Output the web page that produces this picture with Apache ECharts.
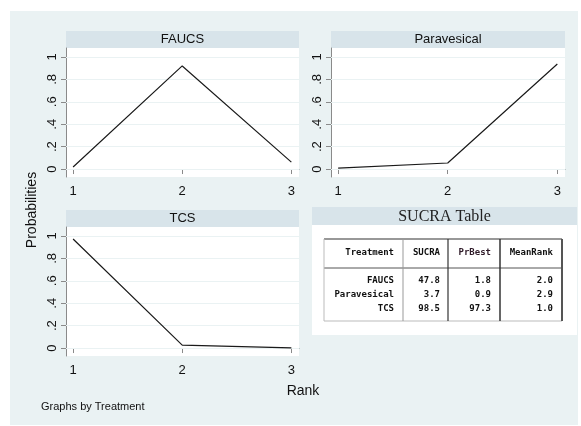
<!DOCTYPE html>
<html><head><meta charset="utf-8">
<script src="https://cdn.jsdelivr.net/npm/echarts@6/dist/echarts.min.js"></script>
<style>html,body{margin:0;padding:0;background:#fff}#c{width:581px;height:426px}</style>
</head><body><div id="c"></div>
<script>
// ---- data ----
const ranks = [1, 2, 3];
const panelTitles = ['FAUCS', 'Paravesical', 'TCS'];
const faucs = [0.018, 0.92, 0.062];
const paravesical = [0.009, 0.054, 0.937];
const tcs = [0.973, 0.026, 0.001];
const yTicks = [0, 0.2, 0.4, 0.6, 0.8, 1];
const yTickLabels = ['0', '.2', '.4', '.6', '.8', '1'];
const tableHeader = ['Treatment', 'SUCRA', 'PrBest', 'MeanRank'];
const treatments = ['FAUCS', 'Paravesical', 'TCS'];
const sucra = ['47.8', '3.7', '98.5'];
const prBest = ['1.8', '0.9', '97.3'];
const meanRank = ['2.0', '2.9', '1.0'];

// ---- layout ----
const BG = '#eaf2f3', STRIP = '#d8e4ea', FONT = '"Liberation Sans", Arial, sans-serif';
const grids = [
  {left: 66, top: 48, width: 233, height: 129},
  {left: 331, top: 48, width: 234, height: 129},
  {left: 66, top: 227, width: 233, height: 129}
];
const seriesData = [faucs, paravesical, tcs];

const chart = echarts.init(document.getElementById('c'), null, {renderer: 'canvas'});

const xAxes = grids.map((g, i) => ({
  type: 'value', gridIndex: i, min: 0.935, max: 3.07,
  axisLine: {show: true, lineStyle: {color: '#8a8a8a', width: 1}},
  axisTick: {show: true, length: 5, customValues: ranks, lineStyle: {color: '#8a8a8a'}},
  axisLabel: {customValues: ranks, color: '#111', fontSize: 13, fontFamily: FONT, margin: 8},
  splitLine: {show: false}
}));
const yAxes = grids.map((g, i) => ({
  type: 'value', gridIndex: i, min: -0.071, max: 1.08,
  axisLine: {show: true, lineStyle: {color: '#8a8a8a', width: 1}},
  axisTick: {show: true, length: 5, customValues: yTicks, lineStyle: {color: '#8a8a8a'}},
  axisLabel: {customValues: yTicks, rotate: 90, color: '#111', fontSize: 13, fontFamily: FONT, margin: 7,
    formatter: v => { const k = yTicks.findIndex(t => Math.abs(t - v) < 1e-6); return k >= 0 ? yTickLabels[k] : ''; }},
  splitLine: {show: false}
}));
const series = grids.map((g, i) => ({
  type: 'line', xAxisIndex: i, yAxisIndex: i, symbol: 'none',
  data: ranks.map((r, k) => [r, seriesData[i][k]]),
  lineStyle: {color: '#1a1a1a', width: 1.2},
  markLine: {silent: true, symbol: 'none', label: {show: false},
    lineStyle: {color: BG, width: 1.2, type: 'solid'},
    data: yTicks.map(v => ({yAxis: v})), z: 1},
  z: 5
}));

// graphics: background, strips, titles, table
const gfx = [];
gfx.push({type: 'rect', shape: {x: 10, y: 11, width: 568, height: 414}, style: {fill: BG}, z: -10});
grids.forEach((g, i) => {
  gfx.push({type: 'rect', shape: {x: g.left, y: g.top, width: g.width, height: g.height}, style: {fill: '#fff'}, z: -9});
  gfx.push({type: 'rect', shape: {x: g.left, y: g.top - 17, width: g.width, height: 17}, style: {fill: STRIP}, z: -9});
  gfx.push({type: 'text', x: g.left + g.width / 2, y: g.top - 8.5,
    style: {text: panelTitles[i], font: '13px ' + FONT, fill: '#111', align: 'center', verticalAlign: 'middle'}, z: 10});
});
// SUCRA table panel
const T = {x: 312, y: 207, w: 265, stripH: 18, h: 128};
gfx.push({type: 'rect', shape: {x: T.x, y: T.y, width: T.w, height: T.stripH}, style: {fill: STRIP}, z: -9});
gfx.push({type: 'rect', shape: {x: T.x, y: T.y + T.stripH, width: T.w, height: T.h - T.stripH}, style: {fill: '#fff'}, z: -9});
gfx.push({type: 'text', x: T.x + T.w / 2, y: T.y + 9.5,
  style: {text: 'SUCRA Table', font: '16px "Liberation Serif", "Times New Roman", serif', fill: '#222', align: 'center', verticalAlign: 'middle'}, z: 10});
// table box
const tb = {x0: 324, x1: 562, y0: 239, yh: 268, y1: 321};
const colLines = [403, 448, 500];
const colRight = [394, 440, 491, 553];
const rowY = [281, 295, 309];
const mono = 'bold 9px "DejaVu Sans Mono", monospace';
gfx.push({type: 'line', shape: {x1: tb.x0, y1: tb.y0, x2: tb.x1, y2: tb.y0}, style: {stroke: '#333', lineWidth: 1.2}, z: 10});
gfx.push({type: 'line', shape: {x1: tb.x0, y1: tb.yh, x2: tb.x1, y2: tb.yh}, style: {stroke: '#555', lineWidth: 1}, z: 10});
gfx.push({type: 'line', shape: {x1: tb.x0, y1: tb.y1, x2: tb.x1, y2: tb.y1}, style: {stroke: '#bbb', lineWidth: 1}, z: 10});
gfx.push({type: 'line', shape: {x1: tb.x0, y1: tb.y0, x2: tb.x0, y2: tb.y1}, style: {stroke: '#bbb', lineWidth: 1}, z: 10});
gfx.push({type: 'line', shape: {x1: colLines[0], y1: tb.y0, x2: colLines[0], y2: tb.y1}, style: {stroke: '#999', lineWidth: 1}, z: 10});
gfx.push({type: 'line', shape: {x1: colLines[1], y1: tb.y0, x2: colLines[1], y2: tb.y1}, style: {stroke: '#333', lineWidth: 1.2}, z: 10});
gfx.push({type: 'line', shape: {x1: colLines[2], y1: tb.y0, x2: colLines[2], y2: tb.y1}, style: {stroke: '#333', lineWidth: 1.5}, z: 10});
gfx.push({type: 'line', shape: {x1: tb.x1, y1: tb.y0, x2: tb.x1, y2: tb.y1}, style: {stroke: '#555', lineWidth: 2}, z: 10});
tableHeader.forEach((h, c) => {
  gfx.push({type: 'text', x: colRight[c], y: 253, style: {text: h, font: mono, fill: c === 2 ? '#2e1a28' : '#111', align: 'right', verticalAlign: 'middle'}, z: 10});
});
const cols = [treatments, sucra, prBest, meanRank];
treatments.forEach((t, r) => {
  cols.forEach((col, c) => {
    gfx.push({type: 'text', x: colRight[c], y: rowY[r], style: {text: col[r], font: mono, fill: '#111', align: 'right', verticalAlign: 'middle'}, z: 10});
  });
});
// axis titles and note
gfx.push({type: 'text', x: 32, y: 210, rotation: Math.PI / 2,
  style: {text: 'Probabilities', font: '14px ' + FONT, fill: '#111', align: 'center', verticalAlign: 'middle'}, z: 10});
gfx.push({type: 'text', x: 303, y: 391,
  style: {text: 'Rank', font: '14px ' + FONT, fill: '#111', align: 'center', verticalAlign: 'middle'}, z: 10});
gfx.push({type: 'text', x: 41, y: 407,
  style: {text: 'Graphs by Treatment', font: '11px ' + FONT, fill: '#111', align: 'left', verticalAlign: 'middle'}, z: 10});

chart.setOption({
  backgroundColor: '#fff',
  animation: false,
  grid: grids.map(g => Object.assign({containLabel: false}, g)),
  xAxis: xAxes,
  yAxis: yAxes,
  series: series,
  graphic: {elements: gfx}
});
</script>
</body></html>
